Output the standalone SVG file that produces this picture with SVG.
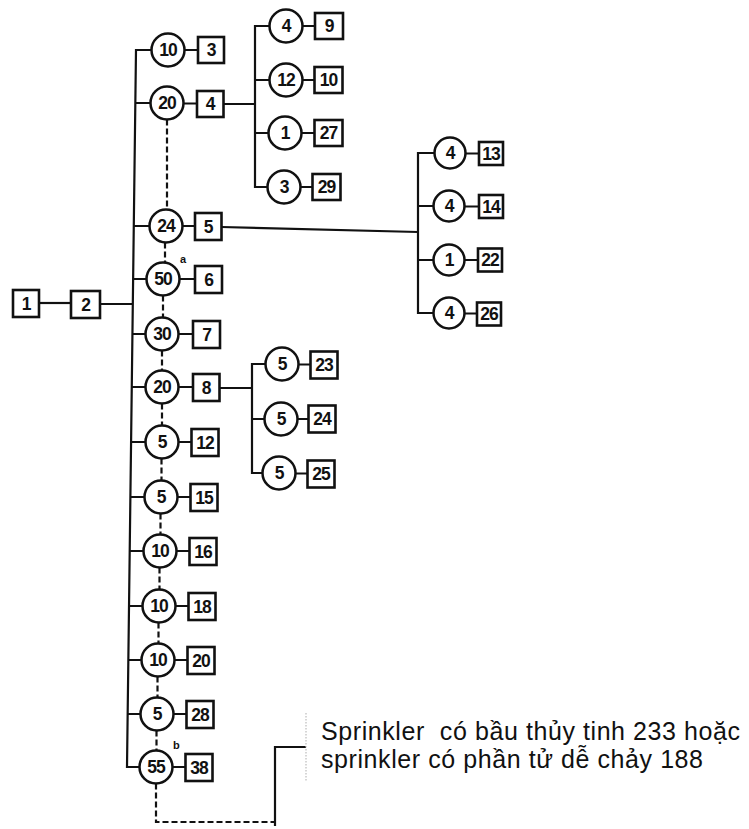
<svg xmlns="http://www.w3.org/2000/svg" width="749" height="829" viewBox="0 0 749 829">
<style>
.c{fill:#fff;stroke:#111;stroke-width:2.5}
.b{fill:#fff;stroke:#111;stroke-width:2.6}
.t{font-family:"Liberation Sans",Arial,sans-serif;font-weight:bold;font-size:17.5px;text-anchor:middle;fill:#111;letter-spacing:-1px}
.s{font-family:"Liberation Sans",Arial,sans-serif;font-weight:bold;font-size:11px;fill:#111}
.l{fill:none;stroke:#111;stroke-width:2.2}
.d{fill:none;stroke:#111;stroke-width:2.2;stroke-dasharray:6 3}
.lab{font-family:"Liberation Sans",Arial,sans-serif;font-size:25px;fill:#111}
</style>
<g id="connectors">
<path class="l" d="M39,303 H71"/>
<path class="l" d="M100,304 H132.8"/>
<path class="l" d="M151.5,50 H136 L127,767 H139.5"/>
<path class="l" d="M135.3,103 H150.5 M133.8,226 H149.5 M133.1,279 H146.5 M132.4,334 H145.5 M131.8,387 H145.5 M131.1,442 H145.5 M130.4,497 H144.5 M129.7,551 H143.5 M129,606 H142.5 M128.3,660 H141.5 M127.7,714 H140.5"/>
<path class="l" d="M184.5,50 H198 M183.5,103.5 H197 M182.5,226 H195 M179.5,279 H195 M178.5,334 H193 M178.5,387 H193 M178.5,442 H191.5 M177.5,497 H190.5 M176.5,551 H189.5 M175.5,606 H188.5 M174.5,660 H187.5 M173.5,714 H186.5 M172.5,767 H185.5"/>
<path class="d" d="M167,119.5 V209.5 M165,242.5 V262.5 M163,295.5 V317.5 M162,350.5 V370.5 M162,403.5 V425.5 M161.5,458.5 V480.5 M160.5,513.5 V534.5 M159.5,567.5 V589.5 M158.5,622.5 V643.5 M157.5,676.5 V697.5 M156.5,730.5 V750.5"/>
<path class="l" d="M223.5,104 H255 M269.5,26 H255 V187 H267.5 M255,80 H269.5 M255,133 H268.5"/>
<path class="l" d="M302.5,26 H315 M302.5,80 H314.5 M301.5,133 H314.5 M300.5,187 H312.5"/>
<path class="l" d="M221.5,227 L418,232 M434.5,153 H418 V313 H433.5 M418,206 H433.5 M418,260 H433.5"/>
<path class="l" d="M465.5,153.5 H479 M464.5,206.5 H479 M464.5,260 H478 M464.5,313.5 H477"/>
<path class="l" d="M219.5,388 H252 M265.5,364 H252 V473 H262.5 M252,419 H264.5"/>
<path class="l" d="M298.5,364.5 H310.5 M297.5,419 H308.5 M295.5,473.5 H307.5"/>
<path class="d" d="M156,783.5 V822 H275"/>
<path class="l" d="M275,826 V747 H306"/>
<path d="M306,713 V782" fill="none" stroke="#bbb" stroke-width="1.2" stroke-dasharray="1.5 1.5"/>
</g>
<g id="n1"><rect class="b" x="13" y="290" width="26" height="27"/><text class="t" x="26" y="309.5">1</text></g>
<g id="n2"><rect class="b" x="71" y="291" width="29" height="27"/><text class="t" x="85.5" y="310.5">2</text></g>
<g id="c10a"><circle class="c" cx="168" cy="50" r="16.5"/><text class="t" x="168" y="56">10</text></g>
<g id="n3"><rect class="b" x="198" y="37" width="26" height="26"/><text class="t" x="211" y="56">3</text></g>
<g id="c20a"><circle class="c" cx="167" cy="103" r="16.5"/><text class="t" x="167" y="109">20</text></g>
<g id="n4"><rect class="b" x="197" y="91" width="26.5" height="26"/><text class="t" x="210" y="110">4</text></g>
<g id="c24"><circle class="c" cx="166" cy="226" r="16.5"/><text class="t" x="166" y="232">24</text></g>
<g id="n5"><rect class="b" x="195" y="213" width="26.5" height="27"/><text class="t" x="208" y="232.5">5</text></g>
<g id="c50"><circle class="c" cx="163" cy="279" r="16.5"/><text class="t" x="163" y="285">50</text><text class="s" x="180" y="263">a</text></g>
<g id="n6"><rect class="b" x="195" y="266" width="27" height="27"/><text class="t" x="208.5" y="285.5">6</text></g>
<g id="c30"><circle class="c" cx="162" cy="334" r="16.5"/><text class="t" x="162" y="340">30</text></g>
<g id="n7"><rect class="b" x="193" y="321" width="27" height="27"/><text class="t" x="206.5" y="340.5">7</text></g>
<g id="c20b"><circle class="c" cx="162" cy="387" r="16.5"/><text class="t" x="162" y="393">20</text></g>
<g id="n8"><rect class="b" x="193" y="374" width="26.5" height="27"/><text class="t" x="206" y="393.5">8</text></g>
<g id="c5a"><circle class="c" cx="162" cy="442" r="16.5"/><text class="t" x="162" y="448">5</text></g>
<g id="n12"><rect class="b" x="191.5" y="429" width="27" height="27"/><text class="t" x="205" y="448.5">12</text></g>
<g id="c5b"><circle class="c" cx="161" cy="497" r="16.5"/><text class="t" x="161" y="503">5</text></g>
<g id="n15"><rect class="b" x="190.5" y="484" width="27" height="27"/><text class="t" x="204" y="503.5">15</text></g>
<g id="c10b"><circle class="c" cx="160" cy="551" r="16.5"/><text class="t" x="160" y="557">10</text></g>
<g id="n16"><rect class="b" x="189.5" y="538" width="27" height="27"/><text class="t" x="203" y="557.5">16</text></g>
<g id="c10c"><circle class="c" cx="159" cy="606" r="16.5"/><text class="t" x="159" y="612">10</text></g>
<g id="n18"><rect class="b" x="188.5" y="593" width="27" height="27"/><text class="t" x="202" y="612.5">18</text></g>
<g id="c10d"><circle class="c" cx="158" cy="660" r="16.5"/><text class="t" x="158" y="666">10</text></g>
<g id="n20"><rect class="b" x="187.5" y="647" width="27" height="27"/><text class="t" x="201" y="666.5">20</text></g>
<g id="c5c"><circle class="c" cx="157" cy="714" r="16.5"/><text class="t" x="157" y="720">5</text></g>
<g id="n28"><rect class="b" x="186.5" y="701" width="27" height="27"/><text class="t" x="200" y="720.5">28</text></g>
<g id="c55"><circle class="c" cx="156" cy="767" r="16.5"/><text class="t" x="156" y="773">55</text><text class="s" x="173" y="749">b</text></g>
<g id="n38"><rect class="b" x="185.5" y="754" width="27" height="27"/><text class="t" x="199" y="773.5">38</text></g>
<g id="c4a"><circle class="c" cx="286" cy="26" r="16.5"/><text class="t" x="286" y="32">4</text></g>
<g id="n9"><rect class="b" x="315" y="13" width="28" height="26"/><text class="t" x="329" y="32">9</text></g>
<g id="c12"><circle class="c" cx="286" cy="80" r="16.5"/><text class="t" x="286" y="86">12</text></g>
<g id="n10"><rect class="b" x="314.5" y="67" width="28" height="26"/><text class="t" x="328.5" y="86">10</text></g>
<g id="c1a"><circle class="c" cx="285" cy="133" r="16.5"/><text class="t" x="285" y="139">1</text></g>
<g id="n27"><rect class="b" x="314.5" y="120" width="28" height="26"/><text class="t" x="328.5" y="139">27</text></g>
<g id="c3"><circle class="c" cx="284" cy="187" r="16.5"/><text class="t" x="284" y="193">3</text></g>
<g id="n29"><rect class="b" x="312.5" y="174" width="28" height="26"/><text class="t" x="326.5" y="193">29</text></g>
<g id="c4b"><circle class="c" cx="450" cy="153" r="15.5"/><text class="t" x="450" y="159">4</text></g>
<g id="n13"><rect class="b" x="479" y="142" width="24" height="23"/><text class="t" x="491" y="159.5">13</text></g>
<g id="c4c"><circle class="c" cx="449" cy="206" r="15.5"/><text class="t" x="449" y="212">4</text></g>
<g id="n14"><rect class="b" x="479" y="195" width="24" height="23"/><text class="t" x="491" y="212.5">14</text></g>
<g id="c1b"><circle class="c" cx="449" cy="260" r="15.5"/><text class="t" x="449" y="266">1</text></g>
<g id="n22"><rect class="b" x="478" y="248.5" width="24" height="23"/><text class="t" x="490" y="266">22</text></g>
<g id="c4d"><circle class="c" cx="449" cy="313" r="15.5"/><text class="t" x="449" y="319">4</text></g>
<g id="n26"><rect class="b" x="477" y="302.5" width="24" height="23"/><text class="t" x="489" y="320">26</text></g>
<g id="c5d"><circle class="c" cx="282" cy="364" r="16.5"/><text class="t" x="282" y="370">5</text></g>
<g id="n23"><rect class="b" x="310.5" y="351.5" width="27" height="27"/><text class="t" x="324" y="371">23</text></g>
<g id="c5e"><circle class="c" cx="281" cy="419" r="16.5"/><text class="t" x="281" y="425">5</text></g>
<g id="n24"><rect class="b" x="308.5" y="405.5" width="27" height="27"/><text class="t" x="322" y="425">24</text></g>
<g id="c5f"><circle class="c" cx="279" cy="473" r="16.5"/><text class="t" x="279" y="479">5</text></g>
<g id="n25"><rect class="b" x="307.5" y="460.5" width="27" height="27"/><text class="t" x="321" y="480">25</text></g>
<g id="label">
<text class="lab" x="321" y="740" textLength="419" lengthAdjust="spacing" xml:space="preserve">Sprinkler  có bầu thủy tinh 233 hoặc</text>
<text class="lab" x="321" y="768" textLength="382" lengthAdjust="spacing">sprinkler có phần tử dễ chảy 188</text>
</g>
</svg>
